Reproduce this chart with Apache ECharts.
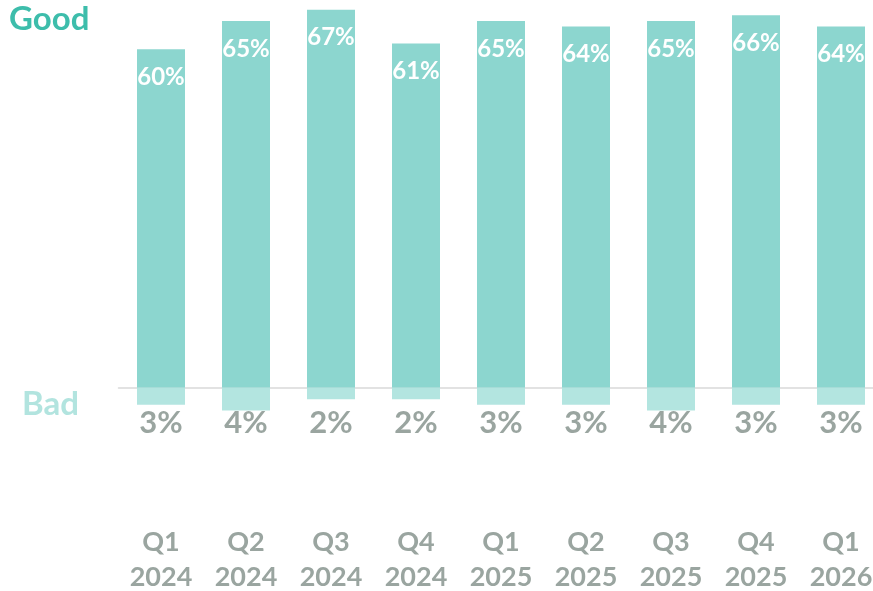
<!DOCTYPE html>
<html>
<head>
<meta charset="utf-8">
<script src="https://cdn.jsdelivr.net/npm/echarts@6/dist/echarts.min.js"></script>
<style>
  html, body { margin: 0; padding: 0; background: #ffffff; }
  #chart { width: 873px; height: 591px; }
</style>
</head>
<body>
<div id="chart"></div>
<script>
// Quarterly share of "Good" and "Bad" responses (percent)
const quarters = ['Q1', 'Q2', 'Q3', 'Q4', 'Q1', 'Q2', 'Q3', 'Q4', 'Q1'];
const years = ['2024', '2024', '2024', '2024', '2025', '2025', '2025', '2025', '2026'];
const goodValues = [60, 65, 67, 61, 65, 64, 65, 66, 64];
const badValues = [3, 4, 2, 2, 3, 3, 4, 3, 3];

const FONT = 'Lato, "Open Sans", sans-serif';
const GREY = '#9aa5a0';

const categories = quarters.map((q, i) => q + ' ' + years[i]);

const chart = echarts.init(document.getElementById('chart'), null, { renderer: 'canvas' });

chart.setOption({
  backgroundColor: '#ffffff',
  animation: false,
  title: [
    {
      text: 'Good', left: 4, top: -2,
      textStyle: { color: '#3dbdab', fontSize: 33, fontWeight: 'bold', fontFamily: FONT }
    },
    {
      text: 'Bad', left: 17, top: 383,
      textStyle: { color: '#b2e4df', fontSize: 33, fontWeight: 'bold', fontFamily: FONT }
    }
  ],
  grid: {
    left: 118.5, right: -10.5, top: 4, height: 429,
    containLabel: false,
    outerBoundsMode: 'none'
  },
  xAxis: {
    type: 'category',
    data: categories,
    axisLine: { onZero: true, lineStyle: { color: '#d9d9d9', width: 1.5 } },
    axisTick: { show: false },
    axisLabel: {
      interval: 0,
      margin: -24,
      formatter: (value, idx) =>
        '{v|' + badValues[idx] + '%}\n{gap| }\n{q|' + quarters[idx] + '}\n{q|' + years[idx] + '}',
      rich: {
        v: { fontSize: 31, fontWeight: 'bold', color: GREY, fontFamily: FONT, lineHeight: 28 },
        gap: { fontSize: 10, lineHeight: 88 },
        q: { fontSize: 27, fontWeight: 'bold', color: GREY, fontFamily: FONT, lineHeight: 35 }
      }
    }
  },
  yAxis: {
    type: 'value',
    min: -8,
    max: 68,
    show: false,
    splitLine: { show: false }
  },
  series: [
    {
      name: 'Good',
      type: 'bar',
      data: goodValues,
      barWidth: 48,
      barGap: '-100%',
      itemStyle: { color: '#8cd6cf' },
      label: {
        show: true,
        position: 'insideTop',
        distance: 16,
        formatter: p => p.value + '%',
        color: '#ffffff',
        fontSize: 24,
        fontWeight: 'bold',
        fontFamily: FONT
      }
    },
    {
      name: 'Bad',
      type: 'bar',
      data: badValues.map(v => -v),
      barWidth: 48,
      barGap: '-100%',
      itemStyle: { color: '#b3e5e0' },
      label: { show: false }
    }
  ]
});
</script>
</body>
</html>
